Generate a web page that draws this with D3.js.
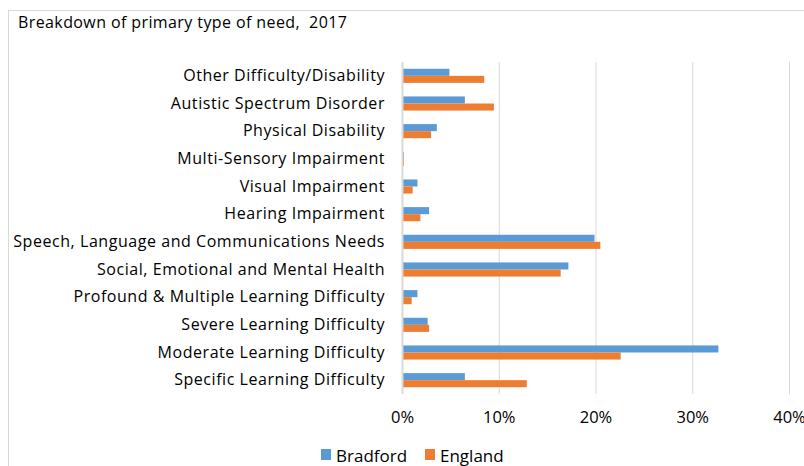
<!DOCTYPE html>
<html>
<head>
<meta charset="utf-8">
<script src="https://cdn.jsdelivr.net/npm/d3@7"></script>
<style>
  html, body { margin: 0; padding: 0; background: #fff; }
  svg { display: block; font-family: "Open Sans", sans-serif; }
</style>
</head>
<body>
<svg id="chart" width="804" height="466"></svg>
<script>
// Primary type of need, top to bottom as listed on the axis
const categories = [
  "Other Difficulty/Disability",
  "Autistic Spectrum Disorder",
  "Physical Disability",
  "Multi-Sensory Impairment",
  "Visual Impairment",
  "Hearing Impairment",
  "Speech, Language and Communications Needs",
  "Social, Emotional and Mental Health",
  "Profound & Multiple Learning Difficulty",
  "Severe Learning Difficulty",
  "Moderate Learning Difficulty",
  "Specific Learning Difficulty"
];
// Share of pupils (%) by primary need
const bradford = [4.9, 6.5, 3.6, 0.2, 1.6, 2.8, 19.9, 17.2, 1.6, 2.65, 32.7, 6.5];
const england  = [8.5, 9.5, 3.0, 0.2, 1.1, 1.9, 20.5, 16.4, 1.0, 2.8, 22.6, 12.9];
const seriesNames = ["Bradford", "England"];
const xTicks = [0, 10, 20, 30, 40];
const title = "Breakdown of primary type of need,  2017";

const colors = { Bradford: "#5B9BD5", England: "#ED7D31" };
const font = "\"Open Sans\", sans-serif";
const svg = d3.select("#chart");

// chart frame
svg.append("rect")
  .attr("x", 8.5).attr("y", 10.5)
  .attr("width", 820).attr("height", 470)
  .attr("fill", "none").attr("stroke", "#D9D9D9").attr("stroke-width", 1);

svg.append("text")
  .attr("x", 18).attr("y", 28)
  .attr("font-size", 16).attr("fill", "#000")
  .attr("font-family", font)
  .attr("letter-spacing", 0.4)
  .style("white-space", "pre")
  .text(title);

const plot = { left: 402, right: 789, top: 62, bottom: 394 };

const x = d3.scaleLinear().domain([0, 40]).range([plot.left, plot.right]);
const y = d3.scaleBand().domain(categories).range([plot.top, plot.bottom]).paddingInner(0.49).paddingOuter(0.245);
const sub = d3.scaleBand().domain(seriesNames).range([0, y.bandwidth()]);

// vertical gridlines
svg.append("g").selectAll("line")
  .data(xTicks.slice(1))
  .join("line")
  .attr("x1", d => x(d) + 0.5).attr("x2", d => x(d) + 0.5)
  .attr("y1", plot.top).attr("y2", plot.bottom)
  .attr("stroke", "#D9D9D9").attr("stroke-width", 1);

// bars
const rows = categories.map((c, i) => ({ c, vals: [bradford[i], england[i]] }));
const groups = svg.append("g").selectAll("g")
  .data(rows)
  .join("g")
  .attr("transform", d => `translate(0,${y(d.c)})`);

groups.selectAll("rect")
  .data(d => d.vals.map((v, j) => ({ s: seriesNames[j], v })))
  .join("rect")
  .attr("x", x(0))
  .attr("y", d => sub(d.s))
  .attr("width", d => x(d.v) - x(0))
  .attr("height", sub.bandwidth())
  .attr("fill", d => colors[d.s]);

// category axis line
svg.append("line")
  .attr("x1", x(0) + 0.5).attr("x2", x(0) + 0.5)
  .attr("y1", plot.top).attr("y2", plot.bottom)
  .attr("stroke", "#D9D9D9").attr("stroke-width", 2);

// category labels
const yAxis = d3.axisLeft(y).tickSize(0).tickPadding(17);
const gy = svg.append("g").attr("transform", `translate(${x(0)},0)`).call(yAxis);
gy.select(".domain").remove();
gy.selectAll("text").attr("font-size", 16).attr("fill", "#000").attr("font-family", font)
  .attr("letter-spacing", 0.55);

// value axis labels
const xAxis = d3.axisBottom(x).tickValues(xTicks).tickFormat(d => d + "%").tickSize(0).tickPadding(17);
const gx = svg.append("g").attr("transform", `translate(0,${plot.bottom})`).call(xAxis);
gx.select(".domain").remove();
gx.selectAll("text").attr("font-size", 16.5).attr("fill", "#000").attr("font-family", font);

// legend
const legend = svg.append("g");
const legendX = [321, 425];
seriesNames.forEach((s, i) => {
  legend.append("rect")
    .attr("x", legendX[i]).attr("y", 449)
    .attr("width", 10).attr("height", 11)
    .attr("fill", colors[s]);
  legend.append("text")
    .attr("x", legendX[i] + 15).attr("y", 462)
    .attr("font-size", 17).attr("fill", "#000")
    .attr("font-family", font)
    .text(s);
});
</script>
</body>
</html>
